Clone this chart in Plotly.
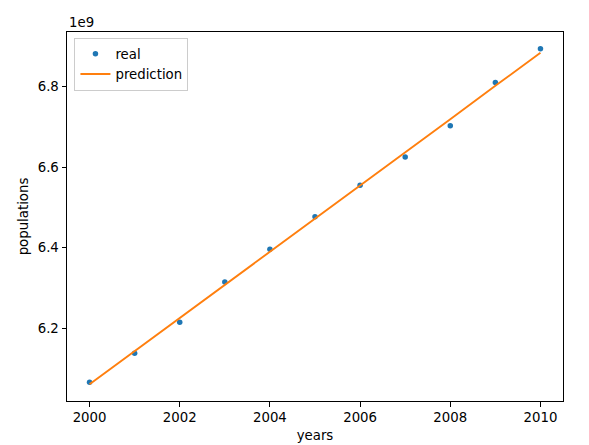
import plotly.graph_objects as go

years = [2000, 2001, 2002, 2003, 2004, 2005, 2006, 2007, 2008, 2009, 2010]
real_pop = [6.066e9, 6.138e9, 6.215e9, 6.315e9, 6.396e9, 6.477e9, 6.555e9, 6.625e9, 6.703e9, 6.810e9, 6.894e9]
pred_pop = [6.061e9, 6.143e9, 6.226e9, 6.308e9, 6.390e9, 6.473e9, 6.555e9, 6.637e9, 6.719e9, 6.802e9, 6.884e9]
x_ticks = [2000, 2002, 2004, 2006, 2008, 2010]
y_ticks = [6.2e9, 6.4e9, 6.6e9, 6.8e9]
y_tick_text = ["6.2", "6.4", "6.6", "6.8"]

FONT = "DejaVu Sans"
FS = 13.3
fig = go.Figure()
fig.add_trace(go.Scatter(x=years, y=real_pop, mode="markers", name="real",
                         marker=dict(color="#1f77b4", size=5.5)))
fig.add_trace(go.Scatter(x=years, y=pred_pop, mode="lines", name="prediction",
                         line=dict(color="#ff7f0e", width=1.9)))

ymin = min(real_pop + pred_pop)
ymax = max(real_pop + pred_pop)
pad = (ymax - ymin) * 0.05

axis_common = dict(showgrid=False, zeroline=False, showline=True, linecolor="black",
                   linewidth=1, mirror=True, ticks="outside", ticklen=4.5, tickwidth=1,
                   tickcolor="black", automargin=False,
                   tickfont=dict(family=FONT, size=FS, color="black"))

# page body has an 8px default margin, so the figure is sized to end at the window edge
fig.update_layout(
    width=581, height=437,
    margin=dict(l=59, r=26, t=24, b=44),
    paper_bgcolor="white", plot_bgcolor="white",
    font=dict(family=FONT, size=FS, color="black"),
    xaxis=dict(range=[1999.5, 2010.5], tickvals=x_ticks,
               title=dict(text="years", standoff=6, font=dict(family=FONT, size=FS)),
               **axis_common),
    yaxis=dict(range=[ymin - pad, ymax + pad], tickvals=y_ticks, ticktext=y_tick_text,
               title=dict(text="populations", standoff=6, font=dict(family=FONT, size=FS)),
               **axis_common),
    legend=dict(x=0.015, y=0.985, xanchor="left", yanchor="top",
                bordercolor="#cccccc", borderwidth=1, bgcolor="rgba(255,255,255,0.8)",
                font=dict(family=FONT, size=FS), tracegroupgap=0),
    showlegend=True,
)
fig.add_annotation(text="1e9", xref="paper", yref="paper", x=0, y=1, xanchor="left",
                   yanchor="bottom", showarrow=False, yshift=0,
                   font=dict(family=FONT, size=FS, color="black"))

fig.write_html("out.html")
